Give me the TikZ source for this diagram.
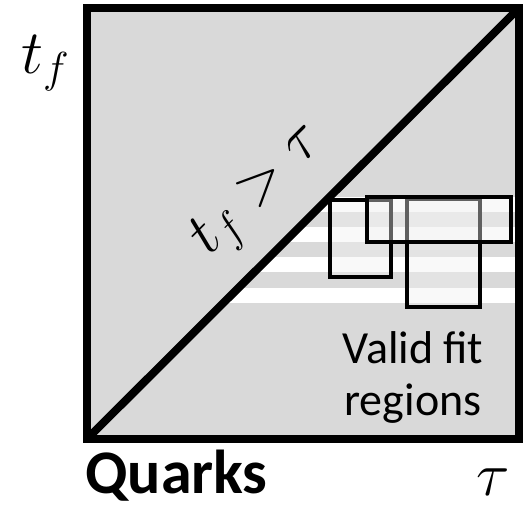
\RequirePackage{fix-cm}
\documentclass[tikz,border=0pt]{standalone}
\usepackage{fontspec}
\setmainfont{Carlito}
\usetikzlibrary{positioning}
\definecolor{panel}{HTML}{D9D9D9}
\definecolor{boxfill}{HTML}{F2F2F2}
\begin{document}
\begin{tikzpicture}[x=1pt,y=-1pt,
  frame/.style={line width=8pt},
  fitbox/.style={draw=black,line width=3.5pt,fill=boxfill,fill opacity=0.4},
  bigmath/.style={font=\fontsize{62}{66}\selectfont,inner sep=0pt},
  label/.style={font=\fontsize{46}{52}\selectfont,align=center,inner sep=0pt}]
\useasboundingbox (0,0) rectangle (526,507);
\coordinate (sw) at (87,439);
\coordinate (ne) at (519,8);
\coordinate (se) at (519,439);
\fill[panel] (sw) rectangle (ne);
\begin{scope}
\clip (sw) -- (ne) -- (se) -- cycle;
\foreach \y in {197,227,257,288}
  \fill[white] (87,\y) rectangle (519,\y+15);
\end{scope}
\draw[fitbox] (330,200) rectangle (391,277);
\draw[fitbox] (407,199) rectangle (480,307);
\draw[fitbox] (367,197) rectangle (511,242);
\draw[frame] (sw) -- (ne);
\draw[frame] (sw) rectangle (ne);
\node[bigmath,anchor=base west] (tf) at (21,73) {$t_f$};
\node[bigmath,anchor=base] (tau) at (493,495) {$\tau$};
\node[bigmath,rotate=45] (cond) at (260,192) {$t_f > \tau$};
\node[label] (valid) at (413,377) {Valid fit\\regions};
\node[font=\fontsize{62}{66}\selectfont\bfseries,anchor=base west,inner sep=0pt] (quarks) at (85,493) {Quarks};
\end{tikzpicture}
\end{document}
